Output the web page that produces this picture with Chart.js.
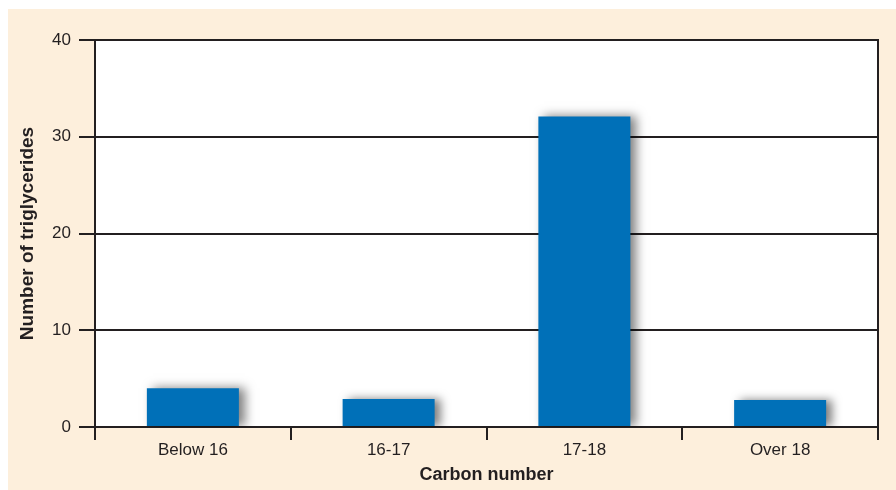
<!DOCTYPE html>
<html>
<head>
<meta charset="utf-8">
<script src="https://cdn.jsdelivr.net/npm/chart.js@4/dist/chart.umd.min.js"></script>
<style>
  html, body { margin: 0; padding: 0; background: #ffffff; }
  #wrap { position: absolute; left: 8px; top: 9px; width: 888px; height: 481px; background: #fdefdc; }
</style>
</head>
<body>
<div id="wrap"><canvas id="chart"></canvas></div>
<script>
const categories = ["Below 16", "16-17", "17-18", "Over 18"];
const triglycerides = [4.0, 2.9, 32.1, 2.8];
const yTicks = [0, 10, 20, 30, 40];

const ink = "#231f20";

// white plot area on the beige panel
const plotBackground = {
  id: "plotBackground",
  beforeDraw(chart) {
    const { ctx, chartArea } = chart;
    ctx.save();
    ctx.fillStyle = "#ffffff";
    ctx.fillRect(chartArea.left, chartArea.top, chartArea.width, chartArea.height);
    ctx.restore();
  }
};

// soft grey shadow behind the bars
const barShadow = {
  id: "barShadow",
  beforeDatasetsDraw(chart) {
    const ctx = chart.ctx;
    ctx.save();
    ctx.shadowColor = "rgba(0, 0, 0, 0.5)";
    ctx.shadowBlur = 10;
    ctx.shadowOffsetX = 6;
    ctx.shadowOffsetY = 0;
  },
  afterDatasetsDraw(chart) {
    chart.ctx.restore();
  }
};

new Chart(document.getElementById("chart").getContext("2d"), {
  type: "bar",
  data: {
    labels: categories,
    datasets: [{
      label: "Number of triglycerides",
      data: triglycerides,
      backgroundColor: "#0070b8",
      borderWidth: 0,
      categoryPercentage: 1,
      barPercentage: 0.47
    }]
  },
  options: {
    responsive: true,
    maintainAspectRatio: false,
    animation: false,
    layout: { padding: { top: 31, right: 18, bottom: 0, left: 0 } },
    plugins: { legend: { display: false }, tooltip: { enabled: false } },
    scales: {
      x: {
        z: 1,
        grid: { offset: true, drawOnChartArea: false, color: ink, lineWidth: 2, tickLength: 13 },
        border: { color: ink, width: 2 },
        ticks: { color: ink, padding: 0, font: { family: "Liberation Sans", size: 17 } },
        title: {
          display: true, text: "Carbon number", color: ink,
          font: { family: "Liberation Sans", size: 18, weight: "bold" },
          padding: { top: 0, bottom: 4 }
        },
        afterFit(scale) { scale.height = 63; }
      },
      y: {
        min: 0, max: 40,
        afterBuildTicks(scale) { scale.ticks = yTicks.map(v => ({ value: v })); },
        grid: { color: ink, lineWidth: 2, tickLength: 16 },
        border: { color: ink, width: 2 },
        ticks: { color: ink, padding: 8, font: { family: "Liberation Sans", size: 17 } },
        title: {
          display: true, text: "Number of triglycerides", color: ink,
          font: { family: "Liberation Sans", size: 19, weight: "bold" },
          padding: { top: 8, bottom: 0 }
        },
        afterFit(scale) { scale.width = 87; }
      },
      y2: {
        position: "right",
        min: 0, max: 40,
        grid: { display: false },
        border: { color: ink, width: 2 },
        ticks: { display: false },
        afterFit(scale) { scale.width = 0; }
      }
    }
  },
  plugins: [plotBackground, barShadow]
});
</script>
</body>
</html>
